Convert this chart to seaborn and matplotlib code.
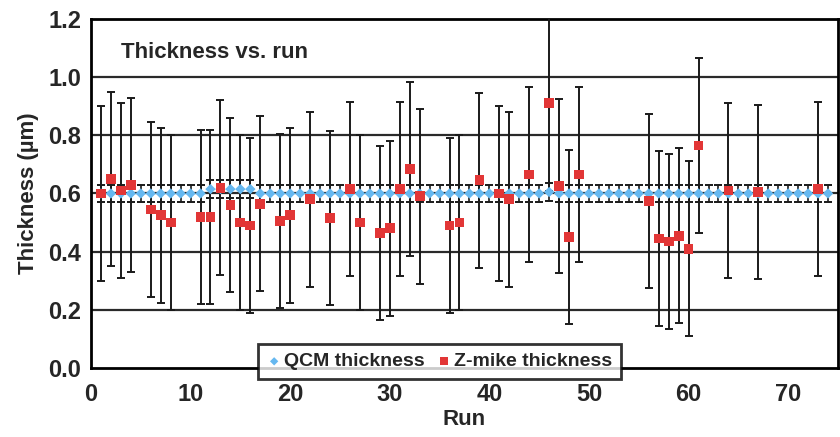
import numpy as np
import pandas as pd
import matplotlib
matplotlib.use("Agg")
import matplotlib.pyplot as plt
import seaborn as sns

# QCM thickness, one point per run
qcm_runs = list(range(1, 75))
qcm_thickness = [
    0.60, 0.60, 0.60, 0.60, 0.60, 0.60, 0.60, 0.60, 0.60, 0.60,
    0.60, 0.615, 0.615, 0.615, 0.615, 0.615, 0.60, 0.60, 0.60, 0.60,
    0.60, 0.60, 0.60, 0.60, 0.60, 0.60, 0.60, 0.60, 0.60, 0.60,
    0.60, 0.60, 0.60, 0.60, 0.60, 0.60, 0.60, 0.60, 0.60, 0.60,
    0.60, 0.60, 0.60, 0.60, 0.60, 0.605, 0.60, 0.60, 0.60, 0.60,
    0.60, 0.60, 0.60, 0.60, 0.60, 0.60, 0.60, 0.60, 0.60, 0.60,
    0.60, 0.60, 0.60, 0.60, 0.60, 0.60, 0.60, 0.60, 0.60, 0.60,
    0.60, 0.60, 0.60, 0.60,
]
qcm_err = 0.03

# Z-mike thickness, only some runs measured
zmike_runs = [1, 2, 3, 4, 6, 7, 8, 11, 12, 13, 14, 15, 16, 17, 19, 20, 22, 24,
              26, 27, 29, 30, 31, 32, 33, 36, 37, 39, 41, 42, 44, 46, 47, 48,
              49, 56, 57, 58, 59, 60, 61, 64, 67, 73]
zmike_thickness = [0.60, 0.65, 0.61, 0.63, 0.545, 0.525, 0.50, 0.52, 0.52, 0.62,
                   0.56, 0.50, 0.49, 0.565, 0.505, 0.525, 0.58, 0.515, 0.615, 0.50,
                   0.465, 0.48, 0.615, 0.685, 0.59, 0.49, 0.50, 0.645, 0.60, 0.58,
                   0.665, 0.91, 0.625, 0.45, 0.665, 0.575, 0.445, 0.435, 0.455, 0.41,
                   0.765, 0.61, 0.605, 0.615]
zmike_err = 0.30

qcm_df = pd.DataFrame({"run": qcm_runs, "thickness": qcm_thickness})
zmike_df = pd.DataFrame({"run": zmike_runs, "thickness": zmike_thickness})

sns.set_style("white")
plt.rcParams["font.family"] = ["Liberation Sans", "DejaVu Sans"]
plt.rcParams["font.weight"] = "bold"

fig = plt.figure(figsize=(8.4, 4.37), dpi=100)
ax = fig.add_axes([0.1083, 0.158, 0.8893, 0.7985])

ax.errorbar(qcm_df["run"], qcm_df["thickness"], yerr=qcm_err, fmt="none",
            ecolor="#1a1a1a", elinewidth=1.2, capsize=3, capthick=1.4, zorder=3)
ax.errorbar(zmike_df["run"], zmike_df["thickness"], yerr=zmike_err, fmt="none",
            ecolor="#1a1a1a", elinewidth=1.4, capsize=3, capthick=1.4, zorder=3)

sns.scatterplot(data=qcm_df, x="run", y="thickness", ax=ax, marker="D", s=28,
                color="#66b8f0", edgecolor="none", label="QCM thickness", zorder=4)
sns.scatterplot(data=zmike_df, x="run", y="thickness", ax=ax, marker="s", s=50,
                color="#e23636", edgecolor="none", label="Z-mike thickness", zorder=5)

ax.set_xlim(0, 75)
ax.set_ylim(0, 1.2)
ax.set_xticks(range(0, 71, 10))
ax.set_yticks([0.0, 0.2, 0.4, 0.6, 0.8, 1.0, 1.2])
ax.set_yticklabels([f"{v:.1f}" for v in [0.0, 0.2, 0.4, 0.6, 0.8, 1.0, 1.2]])
for v in [0.2, 0.4, 0.6, 0.8, 1.0]:
    ax.axhline(v, color="#2a2a2a", lw=1.6, zorder=1)

ax.tick_params(axis="x", direction="inout", length=8, width=1.2, labelsize=17, pad=7)
ax.tick_params(axis="y", direction="out", length=6, width=1.2, labelsize=17, pad=1)
for side in ["top", "right", "bottom", "left"]:
    ax.spines[side].set_color("black")
    ax.spines[side].set_linewidth(2)

ax.set_xlabel("Run", fontsize=16, fontweight="bold", labelpad=2)
ax.set_ylabel("Thickness (\u00b5m)", fontsize=16, fontweight="bold", labelpad=7)
ax.text(0.04, 0.905, "Thickness vs. run", transform=ax.transAxes,
        fontsize=16, fontweight="bold", va="center", ha="left")

leg = ax.legend(loc="lower center", bbox_to_anchor=(0.466, -0.06), ncol=2,
                frameon=True, fancybox=False, fontsize=14, handletextpad=0.1,
                columnspacing=0.6, borderpad=0.45, handlelength=0.8, markerscale=0.8)
leg.get_frame().set_edgecolor("black")
leg.get_frame().set_linewidth(2)
leg.set_zorder(10)

plt.savefig("out.png", dpi=100)
